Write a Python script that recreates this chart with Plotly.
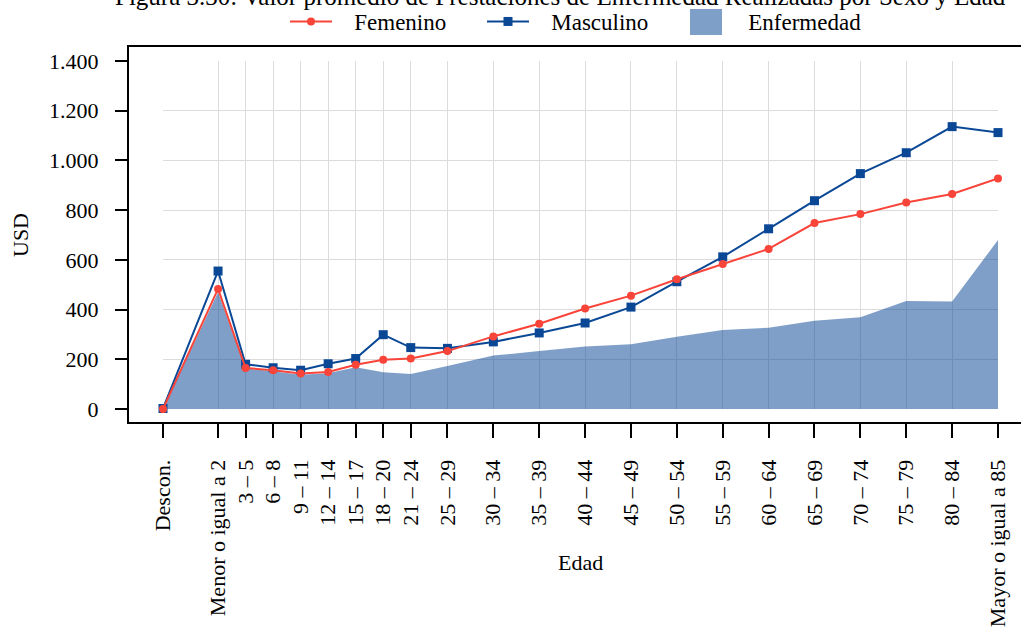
import plotly.graph_objects as go

W, H = 1021, 627

# ---- data ----
age_labels = ["Descon.", "Menor o igual a 2", "3 – 5", "6 – 8", "9 – 11", "12 – 14",
              "15 – 17", "18 – 20", "21 – 24", "25 – 29", "30 – 34", "35 – 39",
              "40 – 44", "45 – 49", "50 – 54", "55 – 59", "60 – 64", "65 – 69",
              "70 – 74", "75 – 79", "80 – 84", "Mayor o igual a 85"]
age_pos = [-5, 1, 4, 7, 10, 13, 16, 19, 22, 26, 31, 36, 41, 46, 51, 56, 61, 66, 71, 76, 81, 86]
femenino = [0, 483, 165, 156, 143, 149, 178, 198, 203, 233, 292, 343, 404, 456, 522,
            583, 644, 748, 784, 831, 865, 927]
masculino = [2, 555, 180, 166, 156, 182, 203, 299, 247, 244, 270, 306, 346, 410, 512,
             612, 725, 838, 947, 1031, 1136, 1112]
enfermedad = [0, 470, 163, 152, 138, 144, 168, 148, 141, 173, 215, 233, 251, 260, 291,
              318, 327, 355, 369, 434, 432, 680]
y_ticks = [0, 200, 400, 600, 800, 1000, 1200, 1400]
title_text = "Figura 3.30: Valor promedio de Prestaciones de Enfermedad Realizadas por Sexo y Edad"

FONT = "Liberation Serif"
RED = "#F9443A"
BLUE = "#0A4896"
FILL = "rgba(10,70,150,0.52)"
FILL_SOLID = "#7EA0C8"
PAD = "\u00a0\u00a0\u00a0"

def px_x(p):
    return p / W

def px_y(p):
    return 1 - p / H

fig = go.Figure()
fig.add_trace(go.Scatter(x=age_pos, y=enfermedad, name="Enfermedad", mode="none",
                         fill="tozeroy", fillcolor=FILL, showlegend=False,
                         hoverinfo="skip"))
fig.add_trace(go.Scatter(x=age_pos, y=masculino, name=PAD + "Masculino", mode="lines+markers",
                         line=dict(color=BLUE, width=2),
                         marker=dict(symbol="square", size=9, color=BLUE),
                         legendrank=2, cliponaxis=False))
fig.add_trace(go.Scatter(x=age_pos, y=femenino, name=PAD + "Femenino", mode="lines+markers",
                         line=dict(color=RED, width=2),
                         marker=dict(symbol="circle", size=8, color=RED),
                         legendrank=1, cliponaxis=False))
# legend entry for the area (its swatch is drawn as a box shape below)
fig.add_trace(go.Scatter(x=[None], y=[None], name=PAD + "Enfermedad", mode="markers",
                         marker=dict(symbol="square", size=9, color="rgba(0,0,0,0)"),
                         legendrank=3, hoverinfo="skip"))

frame = dict(color="black", width=2)
shapes = [
    dict(type="line", xref="paper", yref="paper", x0=px_x(128), x1=px_x(128),
         y0=px_y(423), y1=px_y(46), line=frame),
    dict(type="line", xref="paper", yref="paper", x0=px_x(127), x1=1.1,
         y0=px_y(46), y1=px_y(46), line=frame),
    dict(type="line", xref="paper", yref="paper", x0=px_x(127), x1=1.1,
         y0=px_y(423), y1=px_y(423), line=frame),
    dict(type="rect", xref="paper", yref="paper", x0=px_x(690), x1=px_x(722),
         y0=px_y(35), y1=px_y(9), fillcolor=FILL_SOLID, line=dict(width=0)),
]

fig.update_layout(
    width=W, height=H,
    margin=dict(l=0, r=0, t=0, b=0),
    paper_bgcolor="white", plot_bgcolor="white",
    font=dict(family=FONT, size=22, color="black"),
    separators=",.",
    showlegend=True,
    legend=dict(orientation="h", x=px_x(285), xanchor="left", y=px_y(0), yanchor="top",
                font=dict(family=FONT, size=23), itemwidth=42,
                entrywidth=140, entrywidthmode="pixels", bgcolor="rgba(0,0,0,0)"),
    xaxis=dict(domain=[px_x(163), px_x(998)], range=[-5, 86],
               anchor="free", position=px_y(423),
               tickmode="array", tickvals=age_pos, ticktext=age_labels, tickangle=-90,
               ticks="outside", ticklen=14, tickwidth=1.5, tickcolor="black",
               ticklabelstandoff=13,
               showgrid=True, gridcolor="#DCDCDC", gridwidth=1,
               zeroline=False, showline=False, automargin=False,
               tickfont=dict(family=FONT, size=22)),
    yaxis=dict(domain=[px_y(409), px_y(61)], range=[0, 1400],
               anchor="free", position=px_x(128),
               tickmode="array", tickvals=y_ticks, tickformat=",d",
               ticks="outside", ticklen=13, tickwidth=1.5, tickcolor="black",
               ticklabelstandoff=12,
               showgrid=True, gridcolor="#DCDCDC", gridwidth=1,
               zeroline=False, showline=False, automargin=False,
               tickfont=dict(family=FONT, size=22)),
    shapes=shapes,
    annotations=[
        dict(text=title_text, xref="paper", yref="paper", x=560.5 / W, y=px_y(-4),
             xanchor="center", yanchor="middle", showarrow=False,
             font=dict(family=FONT, size=25)),
        dict(text="USD", xref="paper", yref="paper", x=px_x(20), y=px_y(235),
             xanchor="center", yanchor="middle", textangle=-90, showarrow=False,
             font=dict(family=FONT, size=22)),
        dict(text="Edad", xref="paper", yref="paper", x=px_x(580), y=px_y(562),
             xanchor="center", yanchor="middle", showarrow=False,
             font=dict(family=FONT, size=22)),
    ],
)

fig.write_html("out.html", config={"displayModeBar": False},
               post_script="document.body.style.margin='0';document.body.style.overflow='hidden';")
